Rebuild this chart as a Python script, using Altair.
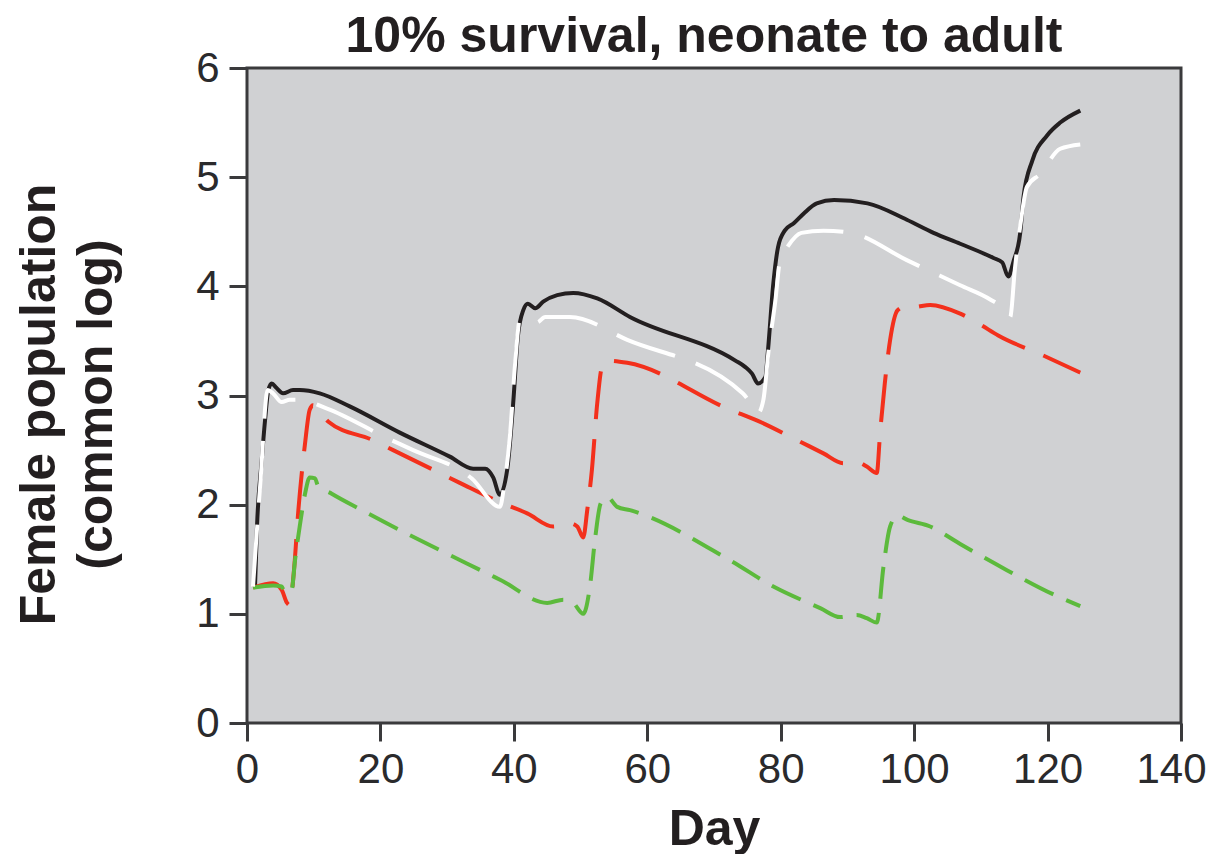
import altair as alt
import pandas as pd

# ---- data ----
black_day = [1.2, 1.5, 2.2, 2.7, 3.2, 3.7, 4.4, 5.4, 6.9, 7.9, 10.9, 15.4, 22.9, 30.4, 33.9, 35.7, 36.9, 37.9,
             39.0, 39.9, 40.6, 41.4, 42.1, 43.2, 44.4, 46.5, 48.9, 52.5, 57.4, 73.2, 74.7, 75.7,
             76.6, 77.7, 78.1, 78.9, 79.6, 80.6, 82.0, 83.5, 85.4, 88.0, 93.0, 98.9, 102.9, 106.9,
             111.9, 113.2, 114.1, 114.9, 115.9, 116.4, 117.7, 119.9, 121.9, 124.9]
black_val = [1.25, 1.8, 2.4, 2.77, 3.05, 3.11, 3.07, 3.02, 3.05, 3.05, 3.02, 2.90, 2.66, 2.44, 2.33, 2.33, 2.25, 2.09,
             2.32, 2.93, 3.54, 3.78, 3.84, 3.80, 3.86, 3.92, 3.94, 3.89, 3.72, 3.32, 3.26, 3.20,
             3.11, 3.17, 3.42, 4.03, 4.36, 4.51, 4.58, 4.67, 4.76, 4.79, 4.76, 4.61, 4.49, 4.39,
             4.26, 4.22, 4.09, 4.23, 4.49, 4.82, 5.15, 5.38, 5.50, 5.61]

white_day = [0.9, 2.0, 3.1, 3.9, 5.2, 6.4, 7.9, 12.0, 21.0, 24.9, 33.7, 37.9, 38.6, 39.4, 40.2, 40.9, 42.4,
             43.5, 44.7, 48.4, 57.0, 74.3, 75.5, 76.6, 77.4, 78.2, 79.2, 79.9, 81.0, 83.1, 86.4,
             90.5, 98.9, 106.9, 111.4, 113.3, 114.4, 115.1, 115.9, 116.9, 118.9, 121.9, 124.9]
white_val = [1.25, 2.2, 3.05, 3.02, 2.94, 2.96, 2.96, 2.88, 2.61, 2.50, 2.24, 1.98, 2.2, 2.62, 3.3, 3.69, 3.69,
             3.67, 3.72, 3.72, 3.51, 3.02, 2.93, 2.84, 2.96, 3.42, 3.87, 4.24, 4.36, 4.49, 4.51,
             4.49, 4.24, 4.01, 3.88, 3.80, 3.72, 4.16, 4.55, 4.91, 5.03, 5.26, 5.30]

red_day = [0.9, 3.9, 5.2, 6.0, 6.4, 7.0, 7.7, 8.7, 9.4, 9.9, 10.5, 12.2, 18.9, 21.9, 28.9, 31.9, 38.4, 42.0, 45.9,
           47.5, 48.4, 49.5, 50.4, 51.0, 51.7, 52.5, 53.2, 54.0, 57.0, 72.4, 76.5, 82.5, 86.4,
           89.4, 91.4, 92.9, 94.4, 94.9, 95.6, 96.4, 97.5, 98.4, 99.9, 102.4, 106.9, 109.9,
           112.6, 119.6, 124.9]
red_val = [1.24, 1.28, 1.22, 1.10, 1.08, 1.37, 1.95, 2.56, 2.87, 2.91, 2.88, 2.76, 2.59, 2.50, 2.29, 2.20, 2.01, 1.92, 1.80,
           1.82, 1.83, 1.80, 1.70, 1.95, 2.32, 2.93, 3.26, 3.32, 3.30, 2.87, 2.77, 2.59, 2.47,
           2.38, 2.39, 2.35, 2.29, 2.66, 3.11, 3.51, 3.78, 3.81, 3.81, 3.83, 3.75, 3.65,
           3.55, 3.36, 3.21]

green_day = [0.9, 3.9, 5.2, 5.7, 6.7, 7.2, 7.9, 8.7, 9.4, 10.2, 10.6, 12.7, 17.2, 35.0, 38.0, 45.0,
             47.4, 48.9, 50.4, 51.4, 52.2, 53.0, 54.0, 55.5, 57.4, 72.4, 78.9, 86.0, 88.9, 91.4,
             92.9, 94.4, 95.4, 96.4, 97.5, 99.0, 102.4, 106.9, 113.9, 120.8, 124.9]
green_val = [1.24, 1.26, 1.25, 1.19, 1.22, 1.49, 1.80, 2.10, 2.25, 2.24, 2.18, 2.10, 1.95, 1.40, 1.31, 1.10,
             1.13, 1.10, 1.00, 1.25, 1.70, 2.01, 2.07, 1.98, 1.95, 1.49, 1.25, 1.05, 0.97, 0.99,
             0.96, 0.92, 1.43, 1.80, 1.90, 1.86, 1.80, 1.64, 1.40, 1.18, 1.07]

x_ticks = [0, 20, 40, 60, 80, 100, 120, 140]
y_ticks = [0, 1, 2, 3, 4, 5, 6]

frames = []
for name, d, v in [("black", black_day, black_val), ("white", white_day, white_val),
                   ("red", red_day, red_val), ("green", green_day, green_val)]:
    frames.append(pd.DataFrame({"series": name, "day": d, "value": v}))
df = pd.concat(frames, ignore_index=True)

xenc = alt.X("day:Q", scale=alt.Scale(domain=[0, 140], nice=False),
             axis=alt.Axis(values=x_ticks, title="Day", labelPadding=8, labelFlush=False,
                           labelOffset={"condition": {"test": "datum.value == 140", "value": -10},
                                        "value": 0},
                           titleBaseline="alphabetic", titleY=121))
yenc = alt.Y("value:Q", scale=alt.Scale(domain=[0, 6], nice=False),
             axis=alt.Axis(values=y_ticks, title=["Female population", "(common log)"],
                           labelPadding=10, titleLineHeight=57, titleAngle=270,
                           titleBaseline="alphabetic", titleAlign="center",
                           titleX=-193, titleY=336))

base = alt.Chart(df).encode(x=xenc, y=yenc, order="day:Q")

styles = [
    ("black", "#231f20", []),
    ("red", "#f3301c", [48, 20]),
    ("green", "#5cba3c", [32, 14]),
    ("white", "#ffffff", [62, 22]),
]
layers = []
for name, color, dash in styles:
    kw = dict(color=color, strokeWidth=4, interpolate="monotone", strokeCap="butt")
    if dash:
        kw["strokeDash"] = dash
    layers.append(base.transform_filter(alt.datum.series == name).mark_line(**kw))

chart = alt.layer(*layers).properties(
    width=934,
    height=655,
    title=alt.TitleParams("10% survival, neonate to adult", font="Liberation Sans",
                          fontSize=50, fontWeight="bold", color="#231f20",
                          anchor="middle", offset=0, dy=15, dx=-10),
    autosize=alt.AutoSizeParams(type="none"),
    padding={"left": 239, "top": 60, "right": 27, "bottom": 131},
).configure_view(
    fill="#d0d1d3", stroke="#3a3a3c", strokeWidth=3
).configure_axis(
    domain=False, grid=False,
    tickSize=18, tickWidth=3, tickColor="#3a3a3c",
    labelFont="Liberation Sans", labelFontSize=42, labelColor="#2a2a2c",
    titleFont="Liberation Sans", titleFontSize=50, titleFontWeight="bold", titleColor="#231f20",
)

chart.save("out.html", embed_options={"renderer": "svg", "actions": False})
